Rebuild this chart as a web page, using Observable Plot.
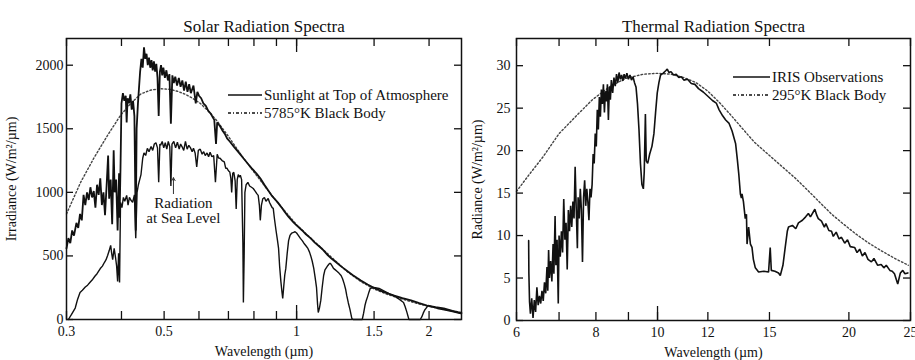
<!DOCTYPE html>
<html><head><meta charset="utf-8">
<script src="https://cdn.jsdelivr.net/npm/d3@7"></script>
<script src="https://cdn.jsdelivr.net/npm/@observablehq/plot@0.6"></script>
<style>
body{margin:0;background:#fff;}
#wrap{position:relative;width:915px;height:360px;display:flex;font-family:"Liberation Serif","DejaVu Serif",serif;color:#111;}
.lg{position:absolute;display:flex;align-items:center;font-size:15px;line-height:18px;white-space:nowrap;}
.lg svg{display:block;margin-right:2px;}
</style></head><body><div id="wrap"></div>
<script>
// ---------- data ----------
const solarTitle = "Solar Radiation Spectra";
const thermalTitle = "Thermal Radiation Spectra";
const solarXTicks = [0.3, 0.4, 0.5, 0.6, 0.7, 0.8, 0.9, 1, 1.5, 2];
const solarXLabels = [0.3, 0.5, 0.7, 1, 1.5, 2];
const solarYTicks = [0, 500, 1000, 1500, 2000];
const thermalXTicks = [6, 7, 8, 9, 10, 12, 15, 20, 25];
const thermalXLabels = [6, 8, 10, 12, 15, 20, 25];
const thermalYTicks = [0, 5, 10, 15, 20, 25, 30];
const solarLongTick = [1];
const thermalLongTick = [10];

// Sunlight at top of atmosphere [wavelength µm, W/m²/µm]
const solarTop = [[0.300,560],[0.303,640],[0.306,600],[0.309,700],[0.312,660],[0.316,760],[0.319,720],[0.322,830],[0.325,780],[0.328,980],[0.331,900],[0.334,1000],[0.337,940],[0.340,1040],[0.343,960],[0.346,1010],[0.349,880],[0.352,1060],[0.355,980],[0.358,1110],[0.361,900],[0.364,1000],[0.367,820],[0.370,1050],[0.373,1290],[0.375,950],[0.378,1100],[0.381,750],[0.384,1330],[0.386,1000],[0.389,1100],[0.392,700],[0.395,1150],[0.396,800],[0.398,1200],[0.400,1700],[0.403,1780],[0.406,1720],[0.409,1760],[0.411,1550],[0.413,1740],[0.416,1700],[0.419,1770],[0.422,1650],[0.425,1720],[0.428,1600],[0.431,700],[0.433,1500],[0.436,1700],[0.438,1800],[0.441,1950],[0.444,2050],[0.447,1980],[0.450,2140],[0.453,2050],[0.456,2090],[0.459,2000],[0.462,2060],[0.465,1980],[0.468,2040],[0.471,1960],[0.474,2030],[0.477,1950],[0.480,2010],[0.483,1900],[0.486,1600],[0.489,1950],[0.492,2000],[0.495,1920],[0.498,1980],[0.502,1900],[0.506,1960],[0.510,1880],[0.514,1930],[0.518,1540],[0.522,1920],[0.526,1860],[0.530,1910],[0.535,1840],[0.540,1900],[0.545,1830],[0.550,1880],[0.555,1800],[0.560,1870],[0.565,1790],[0.570,1850],[0.575,1780],[0.583,1840],[0.590,1700],[0.595,1790],[0.600,1760],[0.607,1740],[0.614,1700],[0.622,1680],[0.630,1640],[0.638,1620],[0.645,1590],[0.650,1570],[0.656,1380],[0.660,1550],[0.670,1520],[0.680,1480],[0.687,1460],[0.695,1425],[0.705,1400],[0.720,1360],[0.740,1310],[0.757,1268],[0.775,1225],[0.790,1190],[0.810,1150],[0.827,1110],[0.845,1060],[0.860,1020],[0.880,970],[0.906,921],[0.925,880],[0.940,845],[0.960,805],[0.984,764],[1.00,740],[1.03,700],[1.05,670],[1.077,638],[1.10,605],[1.13,570],[1.15,545],[1.178,504],[1.20,480],[1.23,450],[1.26,420],[1.28,402],[1.31,375],[1.34,350],[1.37,328],[1.40,307],[1.45,275],[1.51,244],[1.58,215],[1.66,189],[1.74,168],[1.82,150],[1.90,128],[1.98,110],[2.07,97],[2.16,87],[2.26,68],[2.37,50]];

// Radiation at sea level
const solarSea = [[0.303,0],[0.308,40],[0.314,90],[0.318,160],[0.322,213],[0.326,230],[0.331,255],[0.335,270],[0.339,291],[0.343,310],[0.348,340],[0.352,360],[0.358,401],[0.362,420],[0.366,450],[0.369,470],[0.372,504],[0.375,540],[0.378,583],[0.380,520],[0.382,470],[0.385,560],[0.388,480],[0.390,420],[0.392,300],[0.394,520],[0.396,291],[0.398,921],[0.401,880],[0.404,960],[0.407,930],[0.411,976],[0.414,900],[0.417,960],[0.420,940],[0.424,921],[0.428,980],[0.431,640],[0.434,1000],[0.437,1060],[0.440,1100],[0.443,1140],[0.447,1268],[0.450,1310],[0.454,1290],[0.458,1346],[0.462,1320],[0.467,1360],[0.471,1330],[0.475,1380],[0.479,1390],[0.483,1350],[0.486,1080],[0.489,1380],[0.491,1370],[0.495,1400],[0.499,1350],[0.503,1390],[0.507,1340],[0.511,1400],[0.515,1360],[0.518,1050],[0.521,1380],[0.526,1400],[0.531,1350],[0.536,1394],[0.541,1340],[0.545,1380],[0.549,1360],[0.554,1330],[0.559,1400],[0.564,1340],[0.569,1370],[0.574,1350],[0.579,1320],[0.583,1346],[0.588,1310],[0.593,1200],[0.598,1330],[0.604,1340],[0.610,1300],[0.615,1320],[0.620,1290],[0.626,1310],[0.631,1280],[0.636,1315],[0.642,1280],[0.648,1290],[0.654,1080],[0.660,1300],[0.665,1270],[0.670,1268],[0.677,1250],[0.685,1240],[0.690,1190],[0.695,1189],[0.700,1170],[0.705,1160],[0.709,1110],[0.712,1000],[0.716,1150],[0.720,1157],[0.725,1090],[0.729,870],[0.733,1100],[0.737,1140],[0.741,1120],[0.745,1134],[0.750,1100],[0.755,600],[0.757,134],[0.760,500],[0.763,1000],[0.768,1060],[0.775,1079],[0.782,1050],[0.790,1040],[0.797,1030],[0.805,1010],[0.812,990],[0.818,976],[0.823,900],[0.827,780],[0.832,900],[0.838,950],[0.845,960],[0.852,930],[0.862,952],[0.868,920],[0.874,900],[0.880,880],[0.885,874],[0.890,800],[0.898,700],[0.905,620],[0.910,559],[0.915,420],[0.921,300],[0.926,220],[0.930,165],[0.935,260],[0.940,350],[0.945,400],[0.952,520],[0.959,620],[0.966,661],[0.975,680],[0.984,685],[0.992,690],[1.000,680],[1.010,660],[1.020,638],[1.030,620],[1.039,600],[1.050,580],[1.061,559],[1.070,530],[1.077,500],[1.085,460],[1.094,402],[1.102,330],[1.110,250],[1.116,120],[1.120,55],[1.127,90],[1.135,150],[1.143,250],[1.152,346],[1.160,390],[1.170,410],[1.178,425],[1.187,440],[1.195,440],[1.205,420],[1.213,402],[1.225,390],[1.235,380],[1.248,365],[1.262,346],[1.272,320],[1.283,280],[1.292,240],[1.300,189],[1.311,130],[1.322,80],[1.335,8],[1.345,0],[1.410,0],[1.420,50],[1.430,110],[1.440,150],[1.450,180],[1.460,215],[1.470,244],[1.490,252],[1.510,250],[1.540,244],[1.590,220],[1.630,200],[1.660,189],[1.710,160],[1.750,134],[1.765,100],[1.780,60],[1.800,0],[1.910,0],[1.925,20],[1.940,50],[1.955,75],[1.970,90],[1.990,110],[2.030,100],[2.090,87],[2.180,75],[2.260,62],[2.360,47]];

// 5785 K black body
const blackBody5785 = [[0.300,830],[0.323,1079],[0.346,1268],[0.372,1449],[0.398,1606],[0.420,1700],[0.443,1775],[0.467,1805],[0.491,1815],[0.515,1810],[0.536,1795],[0.560,1770],[0.580,1740],[0.604,1700],[0.630,1640],[0.660,1560],[0.700,1440],[0.750,1290],[0.800,1160],[0.850,1040],[0.900,930],[0.950,835],[1.00,745],[1.10,610],[1.20,490],[1.30,380],[1.40,298],[1.50,240],[1.60,200],[1.70,170],[1.80,145],[1.90,122],[2.00,103],[2.20,75],[2.37,55]];

// IRIS observations [wavelength µm, W/m²/µm]
const iris = [[6.27,9.4],[6.275,5.6],[6.29,2.2],[6.31,0.8],[6.34,2.6],[6.37,0.3],[6.40,2.4],[6.43,1.0],[6.46,3.9],[6.49,1.8],[6.52,2.9],[6.55,2.0],[6.58,3.5],[6.61,2.3],[6.64,4.5],[6.67,3.2],[6.70,6.3],[6.72,3.5],[6.74,8.3],[6.76,5.0],[6.79,7.0],[6.82,4.6],[6.85,9.0],[6.87,5.5],[6.90,12.3],[6.92,6.5],[6.95,9.5],[6.98,2.0],[7.00,10.0],[7.03,7.5],[7.06,10.5],[7.09,8.0],[7.12,14.3],[7.15,9.5],[7.18,11.5],[7.21,6.0],[7.24,13.0],[7.27,10.5],[7.30,13.5],[7.33,11.0],[7.36,14.0],[7.39,12.0],[7.42,18.1],[7.45,13.0],[7.48,8.5],[7.50,14.5],[7.53,12.0],[7.56,15.5],[7.59,13.0],[7.62,6.9],[7.65,14.5],[7.68,16.5],[7.71,13.5],[7.74,15.5],[7.77,14.0],[7.80,11.8],[7.83,15.5],[7.86,14.5],[7.89,16.0],[7.92,19.6],[7.95,18.5],[7.98,22.0],[8.01,20.5],[8.04,24.8],[8.07,22.5],[8.10,26.3],[8.13,24.0],[8.16,27.2],[8.19,25.5],[8.22,27.8],[8.25,24.5],[8.28,27.0],[8.31,25.8],[8.34,27.8],[8.37,23.6],[8.40,27.5],[8.43,26.0],[8.46,28.3],[8.50,26.8],[8.54,28.6],[8.58,27.6],[8.62,29.0],[8.66,28.0],[8.70,29.2],[8.74,28.4],[8.78,28.9],[8.82,28.2],[8.86,29.0],[8.90,28.5],[8.95,29.1],[9.00,28.4],[9.05,28.9],[9.10,28.3],[9.15,28.7],[9.20,28.0],[9.25,27.5],[9.30,25.5],[9.35,22.5],[9.40,18.5],[9.45,16.0],[9.50,15.5],[9.53,17.5],[9.57,24.3],[9.60,18.8],[9.65,18.5],[9.72,19.6],[9.80,20.5],[9.87,22.0],[9.93,24.5],[9.99,26.8],[10.05,28.0],[10.11,28.9],[10.2,29.1],[10.3,29.4],[10.36,29.6],[10.42,29.2],[10.5,29.3],[10.6,28.9],[10.7,29.0],[10.8,28.6],[10.9,28.7],[11.0,28.3],[11.15,28.4],[11.3,27.9],[11.45,27.8],[11.6,27.3],[11.8,26.9],[12.0,26.4],[12.2,25.9],[12.37,25.6],[12.5,24.8],[12.66,24.1],[12.8,23.6],[12.96,23.2],[13.1,22.3],[13.27,20.8],[13.35,19.0],[13.42,17.3],[13.50,14.9],[13.55,14.4],[13.58,14.9],[13.65,14.0],[13.74,12.0],[13.80,12.5],[13.83,9.0],[13.91,11.0],[14.00,9.0],[14.08,8.6],[14.15,7.2],[14.25,6.2],[14.42,5.7],[14.7,5.8],[14.95,5.7],[15.04,8.6],[15.10,5.9],[15.3,5.8],[15.5,5.6],[15.6,5.3],[15.75,6.5],[15.88,8.6],[16.0,10.5],[16.07,11.0],[16.3,11.2],[16.5,10.8],[16.66,11.5],[16.9,11.8],[17.1,12.2],[17.27,12.6],[17.4,12.2],[17.68,13.1],[17.8,12.4],[17.9,12.0],[18.11,11.7],[18.3,11.0],[18.4,11.4],[18.6,10.6],[18.78,10.5],[18.9,9.9],[19.1,10.4],[19.3,9.6],[19.47,9.8],[19.7,9.1],[19.9,9.5],[20.1,8.7],[20.42,8.6],[20.6,8.0],[20.8,8.4],[21.0,7.6],[21.2,8.0],[21.43,7.2],[21.7,6.9],[21.9,7.3],[22.2,6.5],[22.48,6.6],[22.7,6.2],[22.9,6.5],[23.2,5.9],[23.4,5.8],[23.59,5.5],[23.87,4.3],[24.1,5.6],[24.31,5.9],[24.5,5.5],[24.76,5.6]];

// 295 K black body
const blackBody295 = [[6.0,15.2],[6.3,17.3],[6.61,19.3],[7.0,22.0],[7.43,24.0],[7.9,26.0],[8.4,27.5],[8.9,28.5],[9.5,29.0],[10.0,29.1],[10.5,29.0],[11.0,28.6],[11.5,28.0],[12.0,27.0],[12.5,25.7],[13.0,24.3],[13.6,22.6],[14.2,21.0],[14.8,19.8],[15.6,18.3],[16.5,16.7],[17.3,15.2],[18.0,13.9],[18.8,12.5],[19.5,11.5],[20.5,10.2],[21.5,9.1],[22.5,8.2],[23.5,7.4],[24.8,6.5]];

const seaLevelNote = [{label: "Radiation\nat Sea Level", wavelength: 0.553, value: 855}];
const seaLevelPointer = [{wavelength: 0.525, from: 990, to: 1115}];

const solarLegend = [{label: "Sunlight at Top of Atmosphere", dash: null}, {label: "5785°K Black Body", dash: "3,2,1,2"}];
const thermalLegend = [{label: "IRIS Observations", dash: null}, {label: "295°K Black Body", dash: "3,2,1,2"}];

// ---------- drawing ----------
const ink = "#111";
const font = "Liberation Serif, DejaVu Serif, serif";
const H = 360;

function panel(o) {
  const ph = H - o.mt - o.mb;
  const pw = o.width - o.ml - o.mr;
  const tick = 8, longTick = 14, ytick = 7;
  return Plot.plot({
    width: o.width, height: H,
    marginLeft: o.ml, marginRight: o.mr, marginTop: o.mt, marginBottom: o.mb,
    style: {fontFamily: font, fontSize: "14px", color: ink, background: "#fff", overflow: "visible"},
    x: {type: "log", domain: o.xDomain},
    y: {domain: o.yDomain},
    marks: [
      Plot.tickX(o.xTicks, {x: d => d, insetTop: ph - tick, stroke: ink, strokeWidth: 1.3}),
      Plot.tickX(o.xTicks, {x: d => d, insetBottom: ph - tick, stroke: ink, strokeWidth: 1.3}),
      Plot.tickX(o.longTick, {x: d => d, insetTop: ph - longTick, stroke: ink, strokeWidth: 1.3}),
      Plot.tickX(o.longTick, {x: d => d, insetBottom: ph - longTick, stroke: ink, strokeWidth: 1.3}),
      Plot.tickY(o.yTicks, {y: d => d, insetRight: pw - ytick, stroke: ink, strokeWidth: 1.3}),
      Plot.tickY(o.yTicks, {y: d => d, insetLeft: pw - ytick, stroke: ink, strokeWidth: 1.3}),
      Plot.axisX(o.xLabels, {tickSize: 0, tickPadding: 7, tickFormat: d => String(d), fontSize: 14,
        label: o.xLabel, labelAnchor: "center", labelOffset: 36, labelArrow: false}),
      Plot.axisY(o.yTicks, {tickSize: 0, tickPadding: o.yPad, tickFormat: d => String(d), fontSize: 14,
        label: o.yLabel, labelAnchor: "center", labelOffset: o.yLabelOffset, labelArrow: false}),
      Plot.line(o.bb, {x: d => d[0], y: d => d[1], stroke: "#444", strokeWidth: 1.4, strokeDasharray: "1.6,2.2"}),
      ...o.series.map(s => Plot.line(s.data, {x: d => d[0], y: d => d[1], stroke: ink, strokeWidth: s.w, strokeLinejoin: "miter"})),
      ...(o.extra || []),
      Plot.frame({stroke: ink, strokeWidth: 1.5}),
      Plot.text([o.title], {text: d => d, frameAnchor: "top", dy: -7, lineAnchor: "bottom", fontSize: 17, fill: ink})
    ]
  });
}

const wrap = document.getElementById("wrap");

const left = panel({
  width: 470, ml: 66, mr: 9, mt: 38, mb: 41,
  xDomain: [0.3, 2.37], yDomain: [0, 2210],
  xTicks: solarXTicks, xLabels: solarXLabels, yTicks: solarYTicks, longTick: solarLongTick,
  xLabel: "Wavelength (µm)", yLabel: "Irradiance (W/m²/µm)", yPad: 3, yLabelOffset: 60,
  title: solarTitle, bb: blackBody5785,
  series: [{data: solarSea, w: 1.4}, {data: solarTop, w: 1.8}],
  extra: [
    Plot.text(seaLevelNote, {x: "wavelength", y: "value", text: "label", fontSize: 15, lineHeight: 1, fill: ink}),
    Plot.arrow(seaLevelPointer, {x1: "wavelength", x2: "wavelength", y1: "from", y2: "to", headLength: 5, stroke: "#333", strokeWidth: 1})
  ]
});
const right = panel({
  width: 445, ml: 46, mr: 5, mt: 38, mb: 40,
  xDomain: [6, 25], yDomain: [0, 33.2],
  xTicks: thermalXTicks, xLabels: thermalXLabels, yTicks: thermalYTicks, longTick: thermalLongTick,
  xLabel: "Wavelength (µm)", yLabel: "Radiance (W/m²/µm)", yPad: 6, yLabelOffset: 44,
  title: thermalTitle, bb: blackBody295,
  series: [{data: iris, w: 1.6}]
});
wrap.appendChild(left);
wrap.appendChild(right);

function legend(x, y, gap, len, items) {
  items.forEach((it, i) => {
    const div = document.createElement("div");
    div.className = "lg";
    div.style.left = x + "px";
    div.style.top = (y + i * gap - 9) + "px";
    div.innerHTML = `<svg width="${len}" height="18"><line x1="0" x2="${len}" y1="9" y2="9" stroke="${ink}" stroke-width="1.4" ${it.dash ? `stroke-dasharray="${it.dash}"` : ""}/></svg><span>${it.label}</span>`;
    wrap.appendChild(div);
  });
}
legend(228, 95, 18, 34, solarLegend);
legend(733, 77, 18, 37, thermalLegend);
</script></body></html>
